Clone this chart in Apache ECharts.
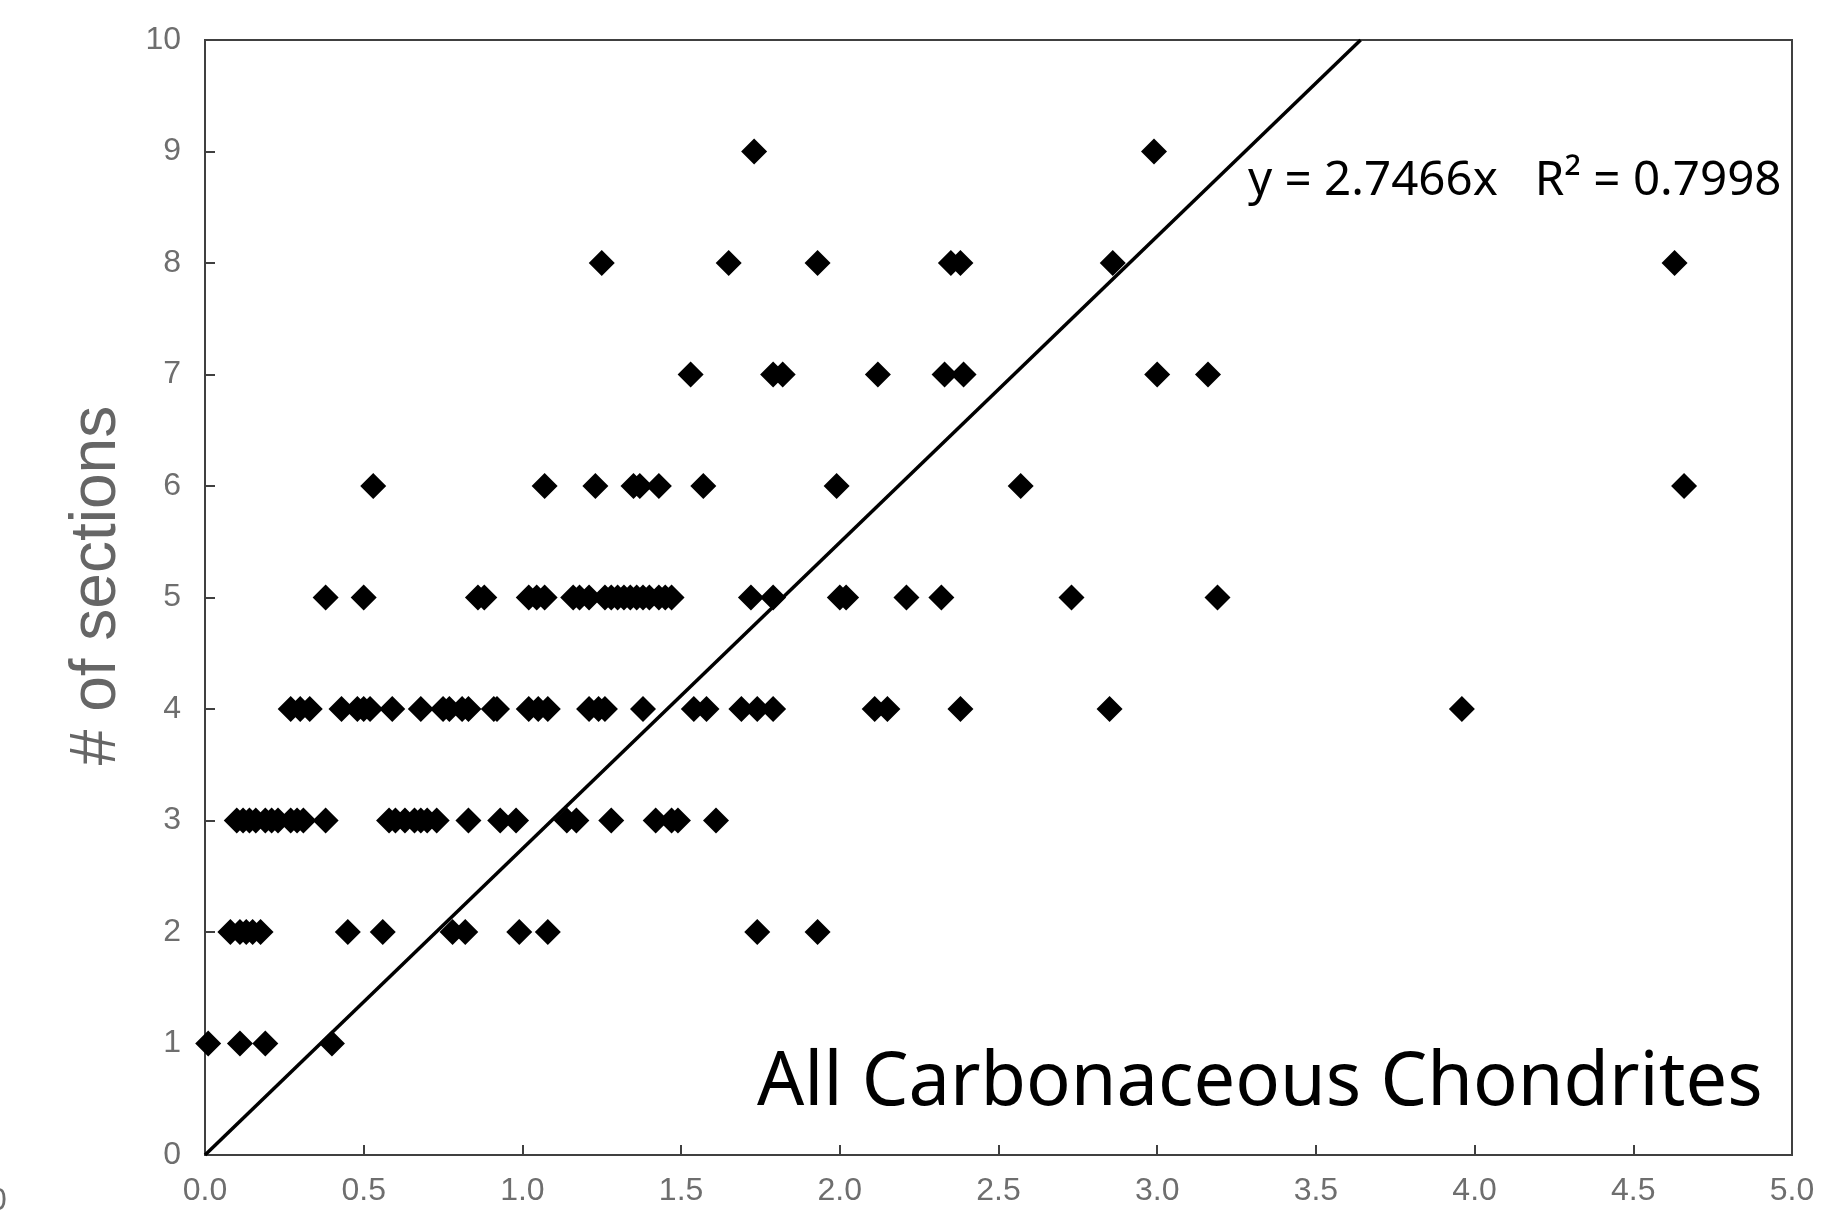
<!DOCTYPE html>
<html>
<head>
<meta charset="utf-8">
<script src="https://cdn.jsdelivr.net/npm/echarts@6/dist/echarts.min.js"></script>
<style>
  html, body { margin: 0; padding: 0; background: #fff; }
  #chart { width: 1846px; height: 1225px; }
</style>
</head>
<body>
<div id="chart"></div>
<script>
// x values of the points, grouped by their y value (# of sections)
const row1 = [0.01, 0.11, 0.19, 0.40]
const row2 = [0.08, 0.11, 0.13, 0.15, 0.175, 0.45, 0.56, 0.78, 0.82, 0.99, 1.08, 1.74, 1.93]
const row3 = [0.10, 0.12, 0.14, 0.16, 0.19, 0.21, 0.23, 0.27, 0.29, 0.31, 0.38,
  0.58, 0.60, 0.63, 0.66, 0.68, 0.70, 0.73, 0.83, 0.93, 0.98, 1.14, 1.17, 1.28,
  1.42, 1.47, 1.49, 1.61]
const row4 = [0.27, 0.30, 0.33, 0.43, 0.48, 0.50, 0.52, 0.59, 0.68, 0.75, 0.77,
  0.81, 0.83, 0.91, 0.92, 1.02, 1.05, 1.08, 1.21, 1.24, 1.26, 1.38, 1.54, 1.58,
  1.69, 1.74, 1.79, 2.11, 2.15, 2.38, 2.85, 3.96]
const row5 = [0.38, 0.50, 0.86, 0.88, 1.02, 1.045, 1.07, 1.16, 1.18, 1.21, 1.26,
  1.28, 1.30, 1.32, 1.34, 1.36, 1.38, 1.40, 1.43, 1.45, 1.47, 1.72, 1.79, 2.00,
  2.02, 2.21, 2.32, 2.73, 3.19]
const row6 = [0.53, 1.07, 1.23, 1.35, 1.37, 1.43, 1.57, 1.99, 2.57, 4.66]
const row7 = [1.53, 1.79, 1.82, 2.12, 2.33, 2.39, 3.00, 3.16]
const row8 = [1.25, 1.65, 1.93, 2.35, 2.38, 2.86, 4.63]
const row9 = [1.73, 2.99]
const rows = [row1, row2, row3, row4, row5, row6, row7, row8, row9]

// trendline y = 2.7466x through the origin, drawn up to the top of the plot
const slope = 2.7466
const yMax = 10
const trendX = [0, yMax / slope]

const equationText = 'y = 2.7466x   R\u00B2 = 0.7998'
const panelText = 'All Carbonaceous Chondrites'

const points = []
rows.forEach((xs, i) => {
  xs.forEach(x => points.push([x, i + 1]))
})

const chart = echarts.init(document.getElementById('chart'))

const axisColor = '#404040'
const labelColor = '#6e6e6e'

chart.setOption({
  animation: false,
  backgroundColor: '#fff',
  grid: {
    left: 205, right: 54, top: 40, bottom: 70,
    show: true, borderColor: axisColor, borderWidth: 2
  },
  xAxis: {
    type: 'value',
    min: 0, max: 5, interval: 0.5,
    axisLine: { show: true, lineStyle: { color: axisColor, width: 2 } },
    axisTick: { show: true, inside: true, length: 10, lineStyle: { color: axisColor, width: 2 } },
    splitLine: { show: false },
    axisLabel: {
      color: labelColor, fontFamily: 'Liberation Sans', fontSize: 32, margin: 20,
      formatter: v => v.toFixed(1)
    }
  },
  yAxis: {
    type: 'value',
    min: 0, max: yMax, interval: 1,
    name: '# of sections',
    nameLocation: 'middle',
    nameGap: 76,
    nameTextStyle: {
      color: '#666', fontFamily: 'Liberation Sans', fontSize: 64,
      padding: [0, 0, 0, 24]
    },
    axisLine: { show: true, lineStyle: { color: axisColor, width: 2 } },
    axisTick: { show: true, inside: true, length: 10, lineStyle: { color: axisColor, width: 2 } },
    splitLine: { show: false },
    axisLabel: { color: labelColor, fontFamily: 'Liberation Sans', fontSize: 32, margin: 24 }
  },
  series: [
    {
      type: 'scatter',
      data: points,
      symbol: 'diamond',
      symbolSize: 26,
      itemStyle: { color: '#000', opacity: 1 },
      z: 2
    },
    {
      type: 'line',
      data: trendX.map(x => [x, slope * x]),
      showSymbol: false,
      symbol: 'none',
      lineStyle: { color: '#000', width: 3.5 },
      z: 3
    }
  ],
  graphic: [
    {
      type: 'text', left: 1248, top: 157,
      style: { text: equationText, fill: '#000', font: '47.5px "Noto Sans"' }
    },
    {
      type: 'text', left: 757, top: 1047,
      style: { text: panelText, fill: '#000', font: '74px "Noto Sans"' }
    },
    {
      type: 'text', left: -11, top: 1185,
      style: { text: '0', fill: labelColor, font: '32px "Liberation Sans"' }
    }
  ]
})
</script>
</body>
</html>
